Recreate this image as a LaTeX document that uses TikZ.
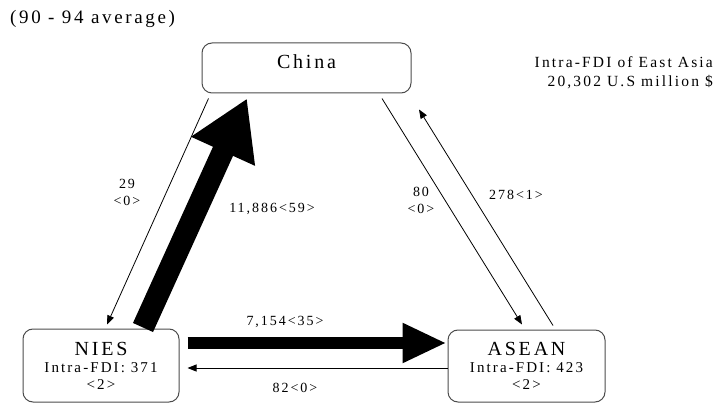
\documentclass[tikz,border=0pt]{standalone}
\usepackage{fontspec}
\setmainfont{Liberation Serif}[LetterSpace=14]
\usetikzlibrary{arrows.meta,calc}
\tikzstyle{region}=[draw=black!70,line width=1pt,rounded corners=10pt,align=center,font=\fontsize{15}{17}\selectfont]
\tikzstyle{flow}=[draw,line width=0.8pt,-{Triangle[length=9pt,width=7pt]}]
\tikzstyle{big flow}=[draw,line width=22pt,-{Triangle[length=58pt,width=66pt]}]
\tikzstyle{mid flow}=[draw,line width=12pt,-{Triangle[length=44pt,width=37pt]}]
\tikzstyle{weight}=[font=\fontsize{14}{17}\selectfont,align=center]
\newcommand{\bigname}{\fontsize{20}{21}\selectfont}

\begin{document}
\begin{tikzpicture}[x=1pt,y=-1pt]
	\useasboundingbox (0,0) rectangle (714,403);
	% First we draw the regions
	\node[region,minimum width=209,minimum height=50,text height=14pt,text depth=12pt,font=\bigname] (china) at (306.5,68) {China};
	\node[region,minimum width=156,minimum height=73] (nies) at (101,365.5) {{\bigname NIES}\\Intra-FDI: 371\\<2>};
	\node[region,minimum width=157,minimum height=72] (asean) at (526.5,366) {{\bigname ASEAN}\\Intra-FDI: 423\\<2>};

	% Titles
	\node[anchor=base west,inner sep=0pt,font=\fontsize{19}{20}\selectfont] (period) at (10,24) {(90 - 94 average)};
	\node[anchor=north east,align=right,inner sep=0pt,font=\fontsize{15.5}{19}\selectfont] (total) at (713,56) {Intra-FDI of East Asia\hspace{9pt}\\20,302 U.S million \$};

	% Connect regions with flows
	\path[flow] ($(china.south west)+(7,5)$) -- ($(nies.north)+(6,-4)$);
	\path[big flow] ($(nies.north)+(42,-1)$) -- ($(china.south)+(-59.5,5)$);
	\path[flow] ($(china.south)+(75.5,5)$) -- ($(asean.north)+(-4.5,-5)$);
	\path[flow] ($(asean.north)+(26.5,-4)$) -- ($(china.south)+(112.5,16)$);
	\path[mid flow] ($(nies.east)+(8,-22.5)$) -- ($(asean.west)+(-1,-23)$);
	\path[flow] ($(asean.west)+(0,2)$) -- ($(nies.east)+(8,2.5)$);

	% and the weights
	\foreach \pos/\name/\weight in {{(127,192)/w1/29\\<0>}, {(272,209)/w2/11,886<59>}, {(421,200)/w3/80\\<0>}, {(516,195)/w4/278<1>}, {(285,322)/w5/7,154<35>}, {(295,388)/w6/82<0>}}
	\node[weight] (\name) at \pos {\weight};
\end{tikzpicture}
\end{document}
